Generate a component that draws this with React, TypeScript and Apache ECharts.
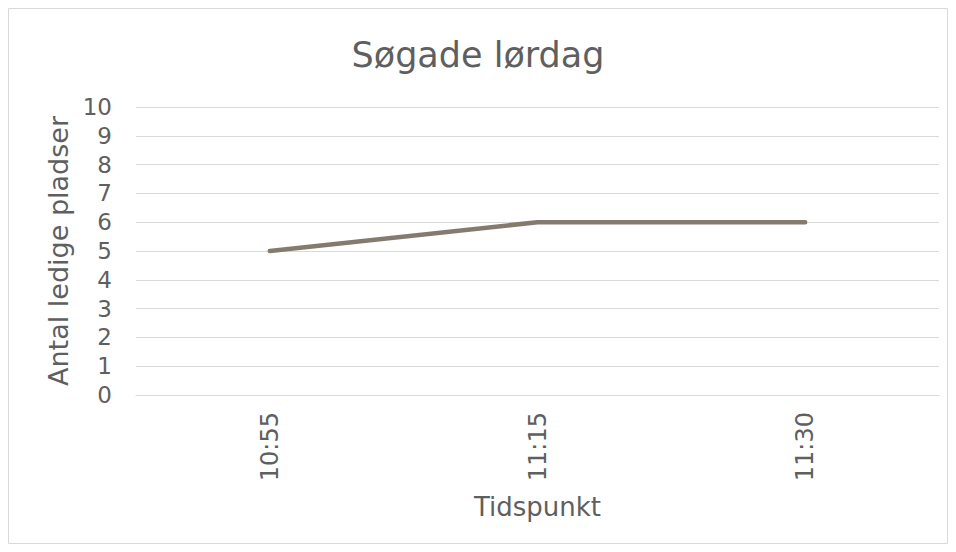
import React, { useEffect, useRef } from "react";
import * as echarts from "echarts";

const TITLE = "Søgade lørdag";
const X_NAME = "Tidspunkt";
const Y_NAME = "Antal ledige pladser";
const categories = ["10:55", "11:15", "11:30"];
const values = [5, 6, 6];
const yMin = 0;
const yMax = 10;
const yInterval = 1;

const TEXT = "#5f5f5f";
const FONT = "DejaVu Sans";

export default function App() {
  const ref = useRef<HTMLDivElement>(null);
  useEffect(() => {
    if (!ref.current) return;
    const chart = echarts.init(ref.current, undefined, { renderer: "svg" });
    chart.setOption({
      animation: false,
      backgroundColor: "#ffffff",
      textStyle: { fontFamily: FONT },
      title: {
        text: TITLE,
        left: "center",
        top: 24,
        textStyle: { color: TEXT, fontSize: 35, fontWeight: "normal", fontFamily: FONT },
      },
      graphic: [
        {
          type: "rect",
          shape: { x: 0.5, y: 0.5, width: 939, height: 535 },
          style: { fill: "none", stroke: "#d9d9d9", lineWidth: 1 },
          silent: true,
        },
      ],
      grid: { left: 128, right: 9, top: 99, bottom: 149, containLabel: false },
      xAxis: {
        type: "category",
        data: categories,
        boundaryGap: true,
        name: X_NAME,
        nameLocation: "middle",
        nameGap: 99,
        nameTextStyle: { color: TEXT, fontSize: 26, fontFamily: FONT },
        axisLine: { show: true, lineStyle: { color: "#d9d9d9", width: 1 } },
        axisTick: { show: false },
        axisLabel: { rotate: 90, color: TEXT, fontSize: 24, margin: 17, fontFamily: FONT },
        splitLine: { show: false },
      },
      yAxis: {
        type: "value",
        min: yMin,
        max: yMax,
        interval: yInterval,
        name: Y_NAME,
        nameLocation: "middle",
        nameGap: 62,
        nameRotate: 90,
        nameTextStyle: { color: TEXT, fontSize: 27, fontFamily: FONT },
        axisLine: { show: false },
        axisTick: { show: false },
        axisLabel: { color: TEXT, fontSize: 23, margin: 24, fontFamily: FONT },
        splitLine: { show: true, lineStyle: { color: "#d9d9d9", width: 1 } },
      },
      series: [
        {
          type: "line",
          data: values,
          showSymbol: false,
          symbol: "none",
          lineStyle: { color: "#857a6e", width: 4.5, cap: "round", join: "round" },
        },
      ],
    });
    return () => chart.dispose();
  }, []);
  return <div ref={ref} style={{ width: 940, height: 536 }} />;
}
